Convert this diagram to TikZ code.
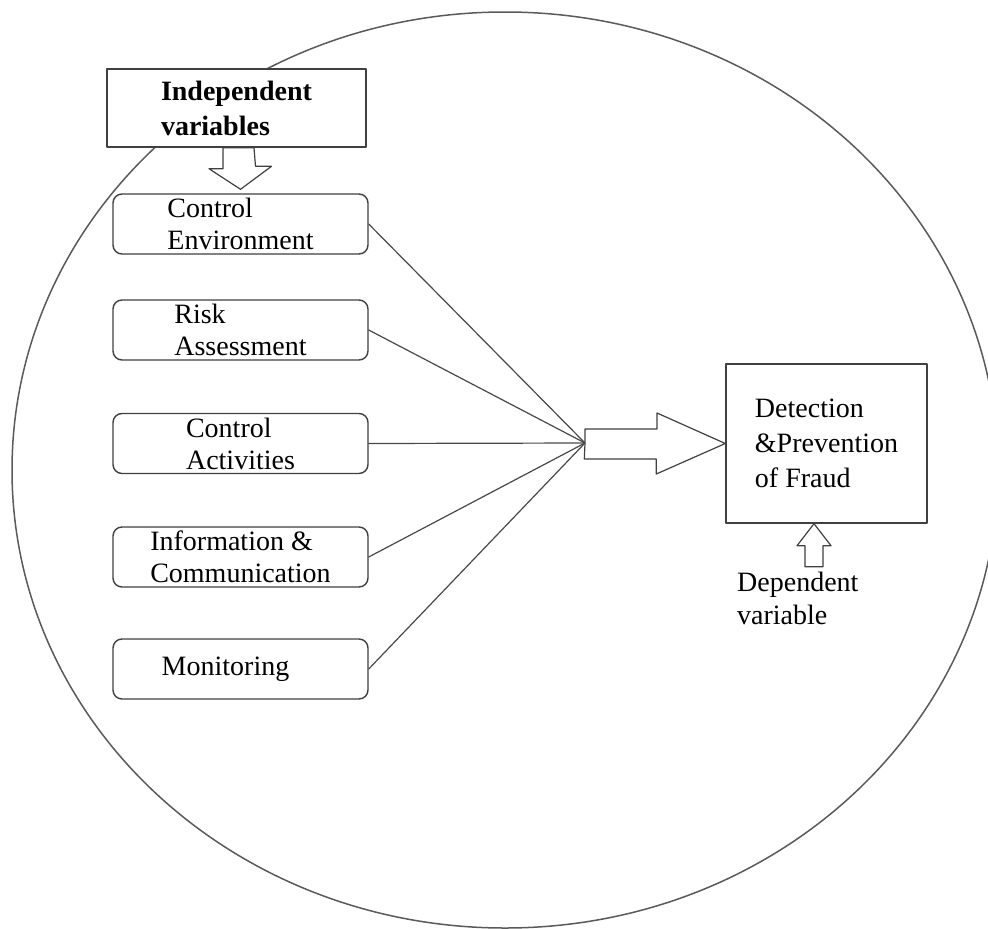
\documentclass[tikz,border=0pt]{standalone}
\usepackage{fontspec}
\setmainfont{Liberation Serif}
\begin{document}
\begin{tikzpicture}[x=1pt,y=-1pt,line cap=round,line join=round,
  outline/.style={draw=boxline,line width=1.4pt},
  factor/.style={outline,fill=white,rounded corners=9pt,minimum width=255pt,
    minimum height=60pt,inner sep=0pt,align=left,font=\fontsize{28}{32}\selectfont},
  link/.style={draw=wireline,line width=1.2pt},
  hollow/.style={draw=boxline,fill=white,line width=1.2pt}]
  \definecolor{boxline}{RGB}{64,64,64}
  \definecolor{wireline}{RGB}{72,72,72}
  \definecolor{ringline}{RGB}{90,90,90}
  \useasboundingbox (0,0) rectangle (988,929);

  % outer ring
  \draw[ringline,line width=1.5pt] (505,470) ellipse [x radius=493pt,y radius=458pt];

  % independent variables
  \node[outline,fill=white,minimum width=259pt,minimum height=78pt,inner sep=0pt,
    align=left,font=\fontsize{28}{35}\selectfont\bfseries] (indep) at (236.5,108)
    {Independent\\variables};
  \node[factor] (ce) at (240.5,224) {Control\\Environment};
  \node[factor] (ra) at (240.5,330) {Risk\\Assessment};
  \node[factor] (ca) at (240.5,443.5) {Control\\Activities};
  \node[factor] (ic) at (240.5,557) {Information \&\\Communication};
  \node[factor] (mo) at (240.5,669) {Monitoring\hspace{30pt}};

  % dependent variable
  \node[outline,fill=white,minimum width=201pt,minimum height=159pt,inner sep=0pt,
    align=left,font=\fontsize{28}{35}\selectfont] (fraud) at (826.5,443.5)
    {Detection\\\&Prevention\\of Fraud};
  \node[anchor=north west,inner sep=0pt,align=left,font=\fontsize{28}{33}\selectfont]
    (dep) at (737,572) {Dependent\\variable};

  % arrow into the first factor
  \draw[hollow] ([yshift=4pt]ce.north) -- ++(31,-23) -- ++(-16,0) -- (indep.south -| 254,0)
    -- (indep.south -| 223,0) -- ++(0,21) -- ++(-14,0) -- cycle;

  % lines into the hub, then the big arrow
  \coordinate (hub) at (585,443);
  \foreach \f in {ce,ra,ca,ic,mo} { \path[link] (\f.east) -- (hub); }
  \draw[hollow] (hub) -- ++(0,-14) -- ++(72,0) -- ++(0,-16) -- (fraud.west)
    -- ++(-69,30.5) -- ++(0,-15) -- ++(-72,0) -- cycle;

  % arrow from the label up to the box
  \draw[hollow] ([xshift=-12.5pt]fraud.south) -- ++(17,22) -- ++(-8,0) -- ++(0,21)
    -- ++(-18,0) -- ++(0,-21) -- ++(-8,0) -- cycle;
\end{tikzpicture}
\end{document}
